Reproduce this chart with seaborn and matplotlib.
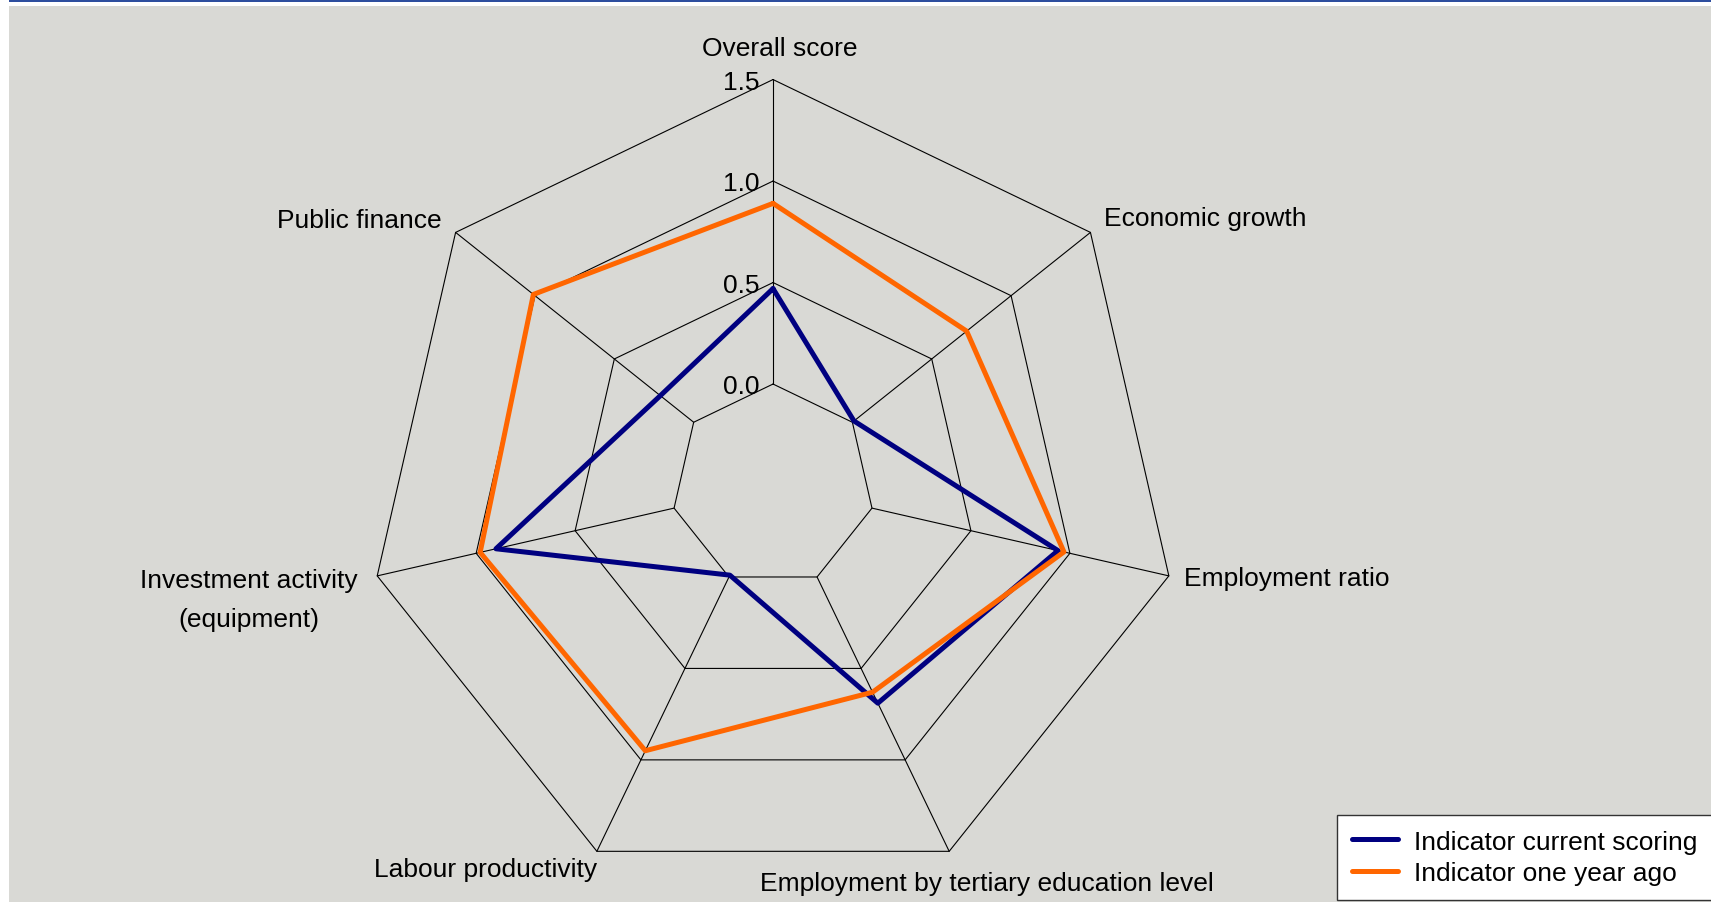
import numpy as np
import pandas as pd
import matplotlib
matplotlib.use("Agg")
import matplotlib.pyplot as plt
from matplotlib.patches import Rectangle
import seaborn as sns

# indicators, clockwise from the top
categories = ["Overall score", "Economic growth", "Employment ratio",
              "Employment by tertiary education level", "Labour productivity",
              "Investment activity\n(equipment)", "Public finance"]
current_scoring = [0.47, 0.01, 0.94, 0.69, -0.01, 0.90, 0.21]
one_year_ago = [0.89, 0.72, 0.97, 0.63, 0.95, 0.98, 1.01]
ring_levels = [0.0, 0.5, 1.0, 1.5]
ring_labels = ["0.0", "0.5", "1.0", "1.5"]
series_names = ["Indicator current scoring", "Indicator one year ago"]

BG = "#D9D9D5"
COLORS = ["#000080", "#FF6600"]

sns.set_style("white")
plt.rcParams["font.family"] = ["Liberation Sans", "DejaVu Sans"]
plt.rcParams["text.color"] = "black"
FS = 19

n = len(categories)
theta = np.linspace(0, 2 * np.pi, n, endpoint=False)
theta_closed = np.append(theta, 2 * np.pi)

rows = []
for name, vals in zip(series_names, [current_scoring, one_year_ago]):
    for t, v in zip(theta_closed, vals + vals[:1]):
        rows.append({"theta": t, "value": v, "series": name})
df = pd.DataFrame(rows)

fig = plt.figure(figsize=(17.11, 9.03), dpi=100, facecolor="white")
# grey panel and thin blue rule on top
fig.patches.append(Rectangle((9 / 1711, 0), 1, 896 / 903, transform=fig.transFigure,
                             facecolor=BG, edgecolor="none", zorder=-10))
fig.patches.append(Rectangle((9 / 1711, 900 / 903), 1, 3 / 903, transform=fig.transFigure,
                             facecolor="#2E4E9E", edgecolor="none", zorder=-10))

ax = fig.add_axes([0.2145, 0.0116, 0.4746, 0.8992], projection="polar")
ax.set_facecolor("none")
ax.set_theta_zero_location("N")
ax.set_theta_direction(-1)
ax.set_ylim(-0.5, 1.5)
ax.grid(False)
ax.spines["polar"].set_visible(False)
ax.set_xticks([])
ax.set_yticks([])

# polygon grid and spokes
for lev in ring_levels:
    ax.plot(theta_closed, [lev] * (n + 1), color="black", lw=0.8, clip_on=False, zorder=1)
for t in theta:
    ax.plot([t, t], [0, 1.5], color="black", lw=0.8, clip_on=False, zorder=1)

sns.lineplot(data=df, x="theta", y="value", hue="series", hue_order=series_names,
             palette=COLORS, sort=False, estimator=None, lw=3.6, ax=ax, zorder=3)
for line in ax.lines:
    line.set_clip_on(False)
ax.set_xlabel("")
ax.set_ylabel("")

for lev, lab in zip(ring_levels, ring_labels):
    ax.annotate(lab, xy=(0, lev), xytext=(-14, -2), textcoords="offset pixels",
                ha="right", va="center", fontsize=FS, color="black")

label_pos = [((7, 32), "center", "center"),
             ((14, 14), "left", "center"),
             ((15, -2), "left", "center"),
             ((38, -32), "center", "center"),
             ((0, -18), "right", "center"),
             ((-20, -24), "right", "center"),
             ((-14, 12), "right", "center")]
for t, cat, (off, ha, va) in zip(theta, categories, label_pos):
    ax.annotate(cat, xy=(t, 1.5), xytext=off, textcoords="offset pixels",
                ha=ha, va=va, fontsize=FS, color="black",
                multialignment="center", linespacing=1.8)

leg = ax.legend(loc="upper left", bbox_to_anchor=(1337 / 1711, 87 / 903),
                bbox_transform=fig.transFigure, borderaxespad=0, frameon=True,
                fancybox=False, fontsize=FS, handlelength=1.78, handletextpad=0.6,
                borderpad=0.55, labelspacing=0.3)
leg.get_frame().set_edgecolor("#333333")
leg.get_frame().set_linewidth(1.0)
leg.get_frame().set_facecolor("white")
leg.get_frame().set_alpha(1)
for txt in leg.get_texts():
    txt.set_color("black")

fig.savefig("out.png", dpi=100, facecolor=fig.get_facecolor())
